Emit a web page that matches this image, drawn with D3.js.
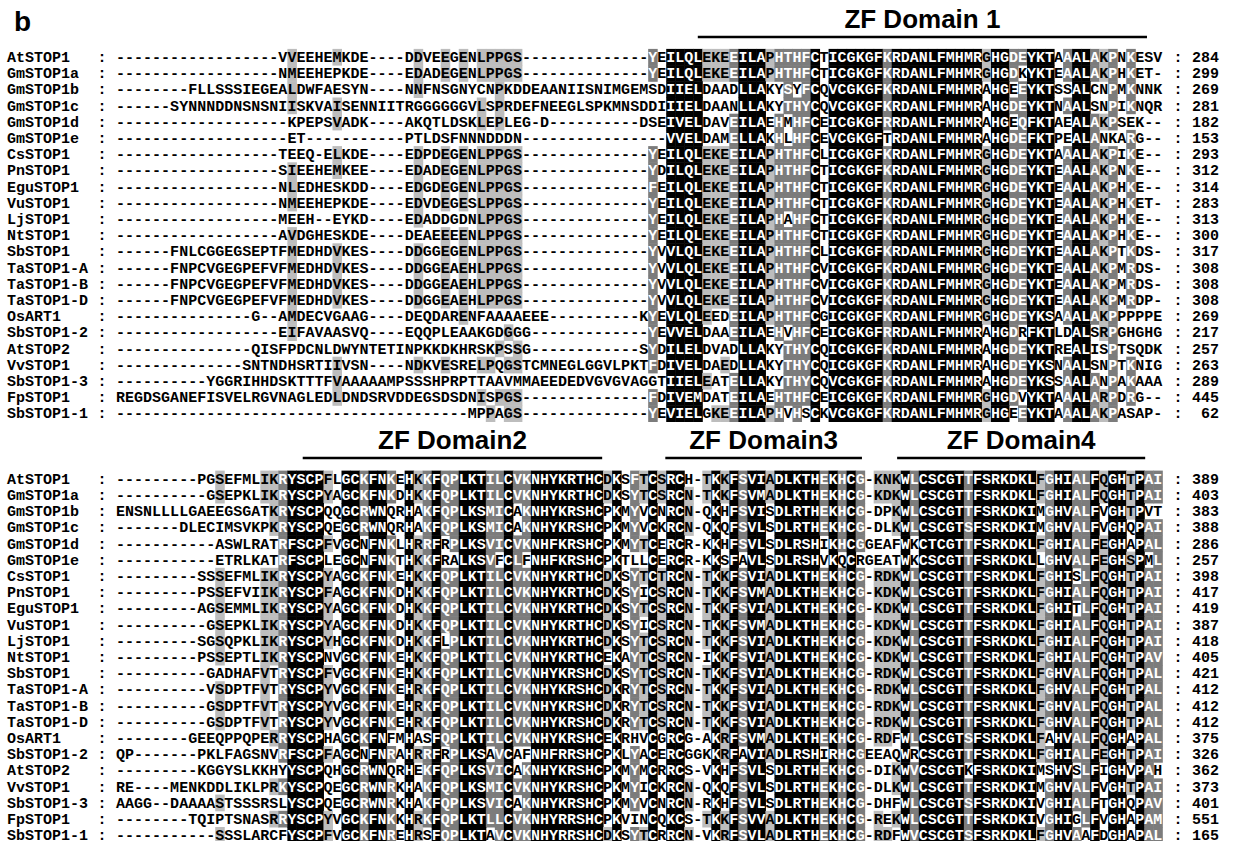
<!DOCTYPE html>
<html><head><meta charset="utf-8">
<script src="https://cdn.jsdelivr.net/npm/d3@7"></script>
<style>body{margin:0;background:#fff;}svg{display:block;}</style>
</head><body>
<svg id="chart" width="1235" height="841"></svg>
<script>
// ---------------- DATA ----------------
const names = ["AtSTOP1","GmSTOP1a","GmSTOP1b","GmSTOP1c","GmSTOP1d","GmSTOP1e","CsSTOP1","PnSTOP1","EguSTOP1","VuSTOP1","LjSTOP1","NtSTOP1","SbSTOP1","TaSTOP1-A","TaSTOP1-B","TaSTOP1-D","OsART1","SbSTOP1-2","AtSTOP2","VvSTOP1","SbSTOP1-3","FpSTOP1","SbSTOP1-1"];

// block 1: alignment columns 0-44 | 45-58 | 59-76 | 77-115
const block1 = [
 ["------------------VVEEHEMKDE----DDVEEGENLPPGS","--------------","YEILQLEKEEILAPHTHF","CTICGKGFKRDANLFMHMRGHGDEYKTAAALAKPNKESV"],
 ["------------------NMEEHEPKDE----EDADEGENLPPGS","--------------","YEILQLEKEEILAPHTHF","CTICGKGFKRDANLFMHMRGHGDKYKTEAALAKPHKET-"],
 ["--------FLLSSSIEGEALDWFAESYN----NNFNSGNYCNPKD","DEAANIISNIMGEM","SDIIELDAADLLAKYSYF","CQVCGKGFKRDANLFMHMRAHGEEYKTSSALCNPMKNNK"],
 ["------SYNNNDDNSNSNIISKVAISENNIITRGGGGGGVLSPRD","EFNEEGLSPKMNSD","DIIIELDAANLLAKYTHY","CQVCGKGFKRDANLFMHMRAHGDEYKTNAALSNPIKNQR"],
 ["-------------------KPEPSVADK----AKQTLDSKLEPLE","G-D----------D","SEIVELDAVEILAEHMHF","CEICGKGFRRDANLFMHMRAHGEQFKTAEALAKPSEK--"],
 ["-------------------ET-----------PTLDSFNNNDDDN","--------------","--VVELDAMELLAKHLHF","CEVCGKGFTRDANLFMHMRAHGDEFKTPEALANKARG--"],
 ["------------------TEEQ-ELKDE----EDPDEGENLPPGS","--------------","YEILQLEKEEILAPHTHF","CLICGKGFKRDANLFMHMRGHGDEYKTAAALAKPIKE--"],
 ["------------------SIEEHEMKEE----EDADEGENLPPGS","--------------","YDILQLEKEEILAPHTHF","CTICGKGFKRDANLFMHMRGHGDEYKTEAALAKPNKE--"],
 ["------------------NLEDHESKDD----EDGDEGENLPPGS","--------------","FEILQLEKEEILAPHTHF","CTICGKGFKRDANLFMHMRGHGDEYKTEAALAKPHKE--"],
 ["------------------NMEEHEPKDE----EDVDEGESLPPGS","--------------","YEILQLEKEEILAPHTHF","CTICGKGFKRDANLFMHMRGHGDEYKTEAALAKPHKET-"],
 ["------------------MEEH--EYKD----EDADDGDNLPPGS","--------------","YEILQLEKEEILAPHAHF","CTICGKGFKRDANLFMHMRGHGDEYKTEAALAKPHKE--"],
 ["------------------AVDGHESKDE----DEAEEEENLPPGS","--------------","YEILQLEKEEILAPHTHF","CTICGKGFKRDANLFMHMRGHGDEYKTEAALAKPHKE--"],
 ["------FNLCGGEGSEPTFMEDHDVKES----DDGGEGENLPPGS","--------------","YVVLQLEKEEILAPHTHF","CLICGKGFKRDANLFMHMRGHGDEYKTEAALAKPTKDS-"],
 ["------FNPCVGEGPEFVFMEDHDVKES----DDGGEAEHLPPGS","--------------","YVVLQLEKEEILAPHTHF","CVICGKGFKRDANLFMHMRGHGDEYKTEAALAKPMRDS-"],
 ["------FNPCVGEGPEFVFMEDHDVKES----DDGGEAEHLPPGS","--------------","YVVLQLEKEEILAPHTHF","CVICGKGFKRDANLFMHMRGHGDEYKTEAALAKPMRDS-"],
 ["------FNPCVGEGPEFVFMEDHDVKES----DDGGEAEHLPPGS","--------------","YVVLQLEKEEILAPHTHF","CVICGKGFKRDANLFMHMRGHGDEYKTEAALAKPMRDP-"],
 ["---------------G--AMDECVGAAG----DEQDARENFAAAA","EEE----------K","YEVLQLEEDEILAPHTHF","CGICGKGFKRDANLFMHMRGHGDEYKSAAALAKPPPPPE"],
 ["------------------EIFAVAASVQ----EQQPLEAAKGDGG","G-------------","YEVVELDAAEILAEHVHF","CEICGKGFRRDANLFMHMRAHGDRFKTLDALSRPGHGHG"],
 ["---------------QISFPDCNLDWYNTETINPKKDKHRSKPSS","G------------S","YDILELDVADLLAKYTHY","CQICGKGFKRDANLFMHMRAHGDEYKTREALISPTSQDK"],
 ["--------------SNTNDHSRTIIVSN----NDKVESRELPQGS","TCMNEGLGGVLPKT","FDIVELDAEDLLAKYTHY","CQICGKGFKRDANLFMHMRAHGDEYKSNAALSNPTKNIG"],
 ["----------YGGRIHHDSKTTTFVAAAAAMPSSSHPRPTTAAVM","MAEEDEDVGVGVAG","GTIIELEATELLAKYTHY","CQVCGKGFKRDANLFMHMRAHGDEYKSSAALANPAKAAA"],
 ["REGDSGANEFISVELRGVNAGLEDLDNDSRVDDEGSDSDNISPGS","--------------","FDIVEMDATEILAEHTHF","CEICGKGFKRDANLFMHMRGHGDVYKTAAALARPDRG--"],
 ["---------------------------------------MPPAGS","--------------","YEVIELGKEEILAPHVHS","CKVCGKGFKRDANLFMHMRGHGEEYKTAAALAKPASAP-"]
];
const ends1 = [284,299,269,281,182,153,293,312,314,283,313,300,317,308,308,308,269,217,257,263,289,445,62];

// block 2: alignment columns 0-17 | 18-30 | 31-75 | 76-115
const block2 = [
 ["---------PGSEFMLIK","RYSCPFLGCKFNK","EHKKFQPLKTILCVKNHYKRTHCDKSFTCSRCH-TKKFSVIADLK","THEKHCG-KNKWLCSCGTTFSRKDKLFGHIALFQGHTPAI"],
 ["----------GSEPKLIK","RYSCPYAGCKFNK","DHKKFQPLKTILCVKNHYKRTHCDKSYTCSRCN-TKKFSVMADLK","THEKHCG-KDKWLCSCGTTFSRKDKLFGHIALFQGHTPAI"],
 ["ENSNLLLLGAEEGSGATK","RYSCPQQGCRWNQ","RHAKFQPLKSMICAKNHYKRSHCPKMYVCNRCN-QKHFSVISDLR","THEKHCG-DPKWLCSCGTTFSRKDKIMGHVALFVGHTPVT"],
 ["-------DLECIMSVKPK","RYSCPQEGCRWNQ","RHAKFQPLKSMICAKNHYKRSHCPKMYVCKRCN-QKQFSVLSDLR","THEKHCG-DLKWLCSCGTSFSRKDKIMGHVALFVGHQPAI"],
 ["-----------ASWLRAT","RFSCPFVGCNFNK","LHRRFRPLKSVICVKNHFKRSHCPKMYTCERCR-KKHFSVLSDLR","SHIKHCGGEAFWKCTCGTTFSRKDKLFGHIALFEGHAPAL"],
 ["-----------ETRLKAT","RFSCPLEGCNFNK","THKKFRALKSVFCLFNHFKRSHCPKTLLCERCR-KKSFAVLSDLR","SHVKQCRGEATWKCSCGTTFSRKDKLLGHVALFEGHSPML"],
 ["---------SSSEFMLIK","RYSCPYAGCKFNK","EHKKFQPLKTILCVKNHYKRTHCDKSYTCTRCN-TKKFSVIADLK","THEKHCG-RDKWLCSCGTTFSRKDKLFGHISLFQGHTPAI"],
 ["---------PSSEFVIIK","RYSCPFAGCKFNK","DHKKFQPLKTILCVKNHYKRTHCDKSYICSRCN-TKKFSVMADLK","THEKHCG-KDKWLCSCGTTFSRKDKLFGHIALFQGHTPAI"],
 ["---------AGSEMMLIK","RYSCPYAGCKFNK","DHKKFQPLKTILCVKNHYKRTHCDKSYTCSRCN-TKKFSVIADLK","THEKHCG-KDKWLCSCGTTFSRKDKLFGHITLFQGHTPAI"],
 ["----------GSEPKLIK","RYSCPYAGCKFNK","DHKKFQPLKTILCVKNHYKRTHCDKSYICSRCN-TKKFSVMADLK","THEKHCG-KDKWLCSCGTTFSRKDKLFGHIALFQGHTPAI"],
 ["---------SGSQPKLIK","RYSCPYHGCKFNK","DHKKFLPLKTILCVKNHYKRTHCDKSYTCSRCN-TKKFSVIADLK","THEKHCG-KDKWLCSCGTTFSRKDKLFGHIALFQGHTPAI"],
 ["---------PSSEPTLIK","RYSCPNVGCKFNK","EHKKFQPLKTILCVKNHYKRTHCEKAYTCSRCN-IKKFSVIADLK","THEKHCG-KDKWLCSCGTTFSRKDKLFGHIALFQGHTPAV"],
 ["----------GADHAFVT","RYSCPFVGCKFNK","EHKKFQPLKTILCVKNHYKRSHCDKSYTCSRCN-TKKFSVIADLK","THEKHCG-RDKWLCSCGTTFSRKDKLFGHVALFQGHTPAL"],
 ["----------VSDPTFVT","RYSCPYVGCKFNK","EHRKFQPLKTILCVKNHYKRSHCDKRYTCSRCN-TKKFSVIADLK","THEKHCG-RDKWLCSCGTTFSRKDKLFGHVALFQGHTPAL"],
 ["----------GSDPTFVT","RYSCPYVGCKFNK","EHRKFQPLKTILCVKNHYKRSHCDKRYTCSRCN-TKKFSVIADLK","THEKHCG-RDKWLCSCGTTFSRKNKLFGHVALFQGHTPAL"],
 ["----------GSDPTFVT","RYSCPYVGCKFNK","EHRKFQPLKTILCVKNHYKRSHCDKRYTCSRCN-TKKFSVIADLK","THEKHCG-RDKWLCSCGTTFSRKDKLFGHVALFQGHTPAL"],
 ["--------GEEQPPQPER","RYSCPHAGCKFNF","MHASFQPLKTILCVKNHYKRSHCEKRHVCGRCG-AKRFSVMADLK","THEKHCG-RDFWLCSCGTSFSRKDKLFAHVALFQGHAPAL"],
 ["QP-------PKLFAGSNV","RFSCPFAGCNFNR","AHRRFRPLKSAVCAFNHFRRSHCPKLYACERCGGKKRFAVIADLR","SHIRHCGEEAQWRCSCGTTFSRKDKLFGHIALFEGHTPAI"],
 ["---------KGGYSLKKH","YYSCPQHGCRWNQ","RHEKFQPLKSVICAKNHYKRSHCPKMYMCRRCS-VKHFSVLSDLR","THEKHCG-DIKWVCSCGTKFSRKDKIMSHVSLFIGHVPAH"],
 ["RE----MENKDDLIKLPR","KYSCPQEGCRWNR","KHAKFQPLKSMICVKNHYKRSHCPKMYICKRCN-QKQFSVLSDLR","THEKHCG-DLKWLCSCGTTFSRKDKIMGHVALFVGHTPAI"],
 ["AAGG--DAAAASTSSSRS","LYSCPQEGCRWNR","KHAKFQPLKSVICAKNHYKRSHCPKMYVCNRCN-RKHFSVLSDLR","THEKHCG-DHFWLCSCGTSFSRKDKIVGHIALFTGHQPAV"],
 ["--------TQIPTSNASR","RYSCPYVGCKFNK","KHRKFQPLKTLLCVKNHYRRSHCPKVINCQKCS-TKKFSVVADLK","THEKHCG-REKWLCSCGTTFSRKDKIVGHIGLFVGHAPAM"],
 ["-----------SSSLARC","FYSCPFVGCKFNR","EHRSFQPLKTAVCVKNHYRRSHCDKSYTCRRCN-VKRFSVLADLR","THEKHCG-RDFWVCSCGTSFSRKDKLFGHVAAFDGHAPAL"]
];
const ends2 = [389,403,383,388,286,257,398,417,419,387,418,405,421,412,412,412,375,326,362,373,401,551,165];

// domain annotations (start/end alignment column)
const domains1 = [{label:"ZF Domain 1", from:64.5, to:114.3}];
const domains2 = [
  {label:"ZF Domain2", from:20.7, to:53.9},
  {label:"ZF Domain3", from:60.9, to:82.7},
  {label:"ZF Domain4", from:86.6, to:114.1}
];
const similarityGroups = ["DN","EQ","ST","KR","FYW","LIVM"];

// ---------------- LAYOUT ----------------
const NCOL = 116, CW = 9.02, RH = 16.2, SEQX = 116;
const MONO = "'Liberation Mono','DejaVu Sans Mono',monospace";
const SANS = "'Liberation Sans',Arial,sans-serif";
const shadeFill = ["#ffffff", "#bdbdbd", "#7c7c7c", "#000000"];
const shadeText = ["#000000", "#000000", "#ffffff", "#ffffff"];

const svg = d3.select("#chart");
svg.append("rect").attr("width",1235).attr("height",841).attr("fill","#fff");

const x = d3.scaleLinear().domain([0, NCOL]).range([SEQX, SEQX + NCOL*CW]);

const grpOf = {};
similarityGroups.forEach(g => { for (const c of g) grpOf[c] = g; });
const key = c => grpOf[c] || c;

function levels(seqs) {
  const N = seqs.length;
  const L = seqs.map(() => new Array(NCOL).fill(0));
  for (let c = 0; c < NCOL; c++) {
    const cnt = {};
    seqs.forEach(s => { const ch = s[c]; if (ch !== "-" && ch !== undefined) { const k = key(ch); cnt[k] = (cnt[k]||0)+1; } });
    let best = null, bc = 0;
    for (const k in cnt) if (cnt[k] > bc) { bc = cnt[k]; best = k; }
    if (!best) continue;
    const p = bc / N;
    const lv = p >= 0.999 ? 3 : p >= 0.75 ? 2 : p >= 0.5 ? 1 : 0;
    seqs.forEach((s, r) => { if (s[c] !== "-" && key(s[c]) === best) L[r][c] = lv; });
  }
  return L;
}

function drawBlock(segs, ends, yTop) {
  const seqs = segs.map(s => s.join(""));
  const bad = seqs.map((s,i)=>[names[i], s.length]).filter(d => d[1] !== NCOL);
  if (bad.length) throw new Error("length mismatch: " + JSON.stringify(bad));
  const y = d3.scaleBand().domain(names).range([yTop, yTop + names.length*RH]);
  const L = levels(seqs);
  const cells = [];
  seqs.forEach((s, r) => { for (let c = 0; c < NCOL; c++) cells.push({r, c, ch: s[c], lv: L[r][c]}); });
  const g = svg.append("g");
  g.selectAll("rect.cell").data(cells.filter(d => d.lv > 0)).join("rect")
    .attr("class","cell")
    .attr("x", d => x(d.c)).attr("y", d => y(names[d.r]))
    .attr("width", CW + 0.5).attr("height", y.bandwidth() + 0.5)
    .attr("fill", d => shadeFill[d.lv]);
  const base = d => y(names[d.r]) + y.bandwidth()/2 + 5;
  g.selectAll("text.res").data(cells).join("text")
    .attr("class","res")
    .attr("x", d => x(d.c) + CW/2).attr("y", base)
    .attr("text-anchor","middle")
    .attr("font-family", MONO).attr("font-size", 15).attr("font-weight","bold")
    .attr("fill", d => shadeText[d.lv])
    .text(d => d.ch);
  const rows = names.map((n, r) => ({n, r, end: ends[r]}));
  const tx = g.selectAll("g.lab").data(rows).join("g").attr("class","lab")
    .attr("transform", d => `translate(0,${base(d)})`)
    .attr("font-family", MONO).attr("font-size", 15).attr("font-weight","bold").attr("fill","#000");
  tx.append("text").attr("x", 7).text(d => d.n);
  tx.append("text").attr("x", 102).attr("text-anchor","middle").text(":");
  tx.append("text").attr("x", 1178).attr("text-anchor","middle").text(":");
  tx.append("text").attr("x", 1219).attr("text-anchor","end").text(d => d.end);
}

function drawDomains(doms, lineY) {
  const g = svg.append("g");
  g.selectAll("line").data(doms).join("line")
    .attr("x1", d => x(d.from)).attr("x2", d => x(d.to))
    .attr("y1", lineY).attr("y2", lineY)
    .attr("stroke","#000").attr("stroke-width",2.5);
  g.selectAll("text").data(doms).join("text")
    .attr("x", d => (x(d.from)+x(d.to))/2).attr("y", lineY - 9)
    .attr("text-anchor","middle")
    .attr("font-family", SANS).attr("font-weight","bold").attr("font-size", 26)
    .text(d => d.label);
}

svg.append("text").attr("x", 14).attr("y", 31)
  .attr("font-family", SANS).attr("font-weight","bold").attr("font-size", 28).text("b");

drawDomains(domains1, 37);
drawBlock(block1, ends1, 57 - RH/2);
drawDomains(domains2, 458);
drawBlock(block2, ends2, 478.7 - RH/2);
</script>
</body></html>
